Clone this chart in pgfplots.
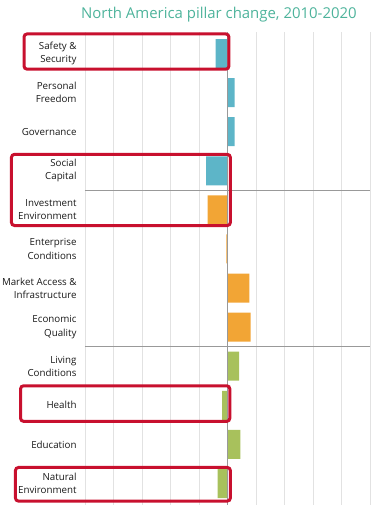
\documentclass[border=0pt]{standalone}
\usepackage{pgfplots}
\pgfplotsset{compat=1.18}
\usepackage{fontspec}
\setmainfont{Open Sans}
\usetikzlibrary{calc}
\definecolor{cblue}{HTML}{5DB5C8}
\definecolor{corange}{HTML}{F2A535}
\definecolor{cgreen}{HTML}{A8C15C}
\definecolor{ctitle}{HTML}{4DB39B}
\definecolor{cred}{HTML}{C8102E}
\definecolor{cgrid}{HTML}{E2E2E2}
\begin{document}
\begin{tikzpicture}
\begin{axis}[
  name=ax,
  scale only axis,
  width=285bp, height=473bp,
  xmin=-5, xmax=5,
  ymin=-0.55, ymax=11.55,
  y dir=reverse,
  xbar, bar width=29bp,
  axis line style={draw=none},
  tick style={draw=none},
  xtick={-5,...,5},
  xticklabels={},
  xmajorgrids,
  major grid style={cgrid, line width=0.8bp},
  ytick={0,...,11},
  yticklabels={{Safety \&\\Security},{Personal\\Freedom},{Governance},{Social\\Capital},{Investment\\Environment},{Enterprise\\Conditions},{Market Access \&\\Infrastructure},{Economic\\Quality},{Living\\Conditions},{Health},{Education},{Natural\\Environment}},
  yticklabel style={align=right, font=\fontsize{9.8}{13.3}\selectfont, text=black!90},
  ytick style={draw=none},
  tick label style={inner sep=1pt},
  yticklabel shift=3bp,
  clip=false,
  title={North America pillar change, 2010-2020},
  title style={at={(0.47,1)}, anchor=south, yshift=0bp, font=\fontsize{15}{17}\selectfont, text=ctitle},
]
\addplot[draw=none, fill=cblue, bar shift=0pt] coordinates {(-0.42,0) (0.25,1) (0.25,2) (-0.75,3)};
\addplot[draw=none, fill=corange, bar shift=0pt] coordinates {(-0.70,4) (-0.04,5) (0.77,6) (0.81,7)};
\addplot[draw=none, fill=cgreen, bar shift=0pt] coordinates {(0.41,8) (-0.19,9) (0.45,10) (-0.35,11)};
\draw[gray!80, line width=0.8bp] (axis cs:0,-0.55) -- (axis cs:0,11.55);
\draw[gray!80, line width=1bp] (axis cs:-5,3.5) -- (axis cs:5,3.5);
\draw[gray!80, line width=1bp] (axis cs:-5,7.5) -- (axis cs:5,7.5);
\draw[cred, line width=3bp, rounded corners=3bp] (axis cs:-7.14,-0.50) rectangle (axis cs:0.05,0.40);
\draw[cred, line width=3bp, rounded corners=3bp] (axis cs:-7.58,2.58) rectangle (axis cs:0.10,4.40);
\draw[cred, line width=3bp, rounded corners=3bp] (axis cs:-7.26,8.50) rectangle (axis cs:0.08,9.41);
\draw[cred, line width=3bp, rounded corners=3bp] (axis cs:-7.44,10.59) rectangle (axis cs:0.10,11.45);
\end{axis}
\pgfresetboundingbox
\path ($(ax.south west)+(-85bp,-5bp)$) rectangle ($(ax.north east)+(12bp,32bp)$);
\end{tikzpicture}
\end{document}
